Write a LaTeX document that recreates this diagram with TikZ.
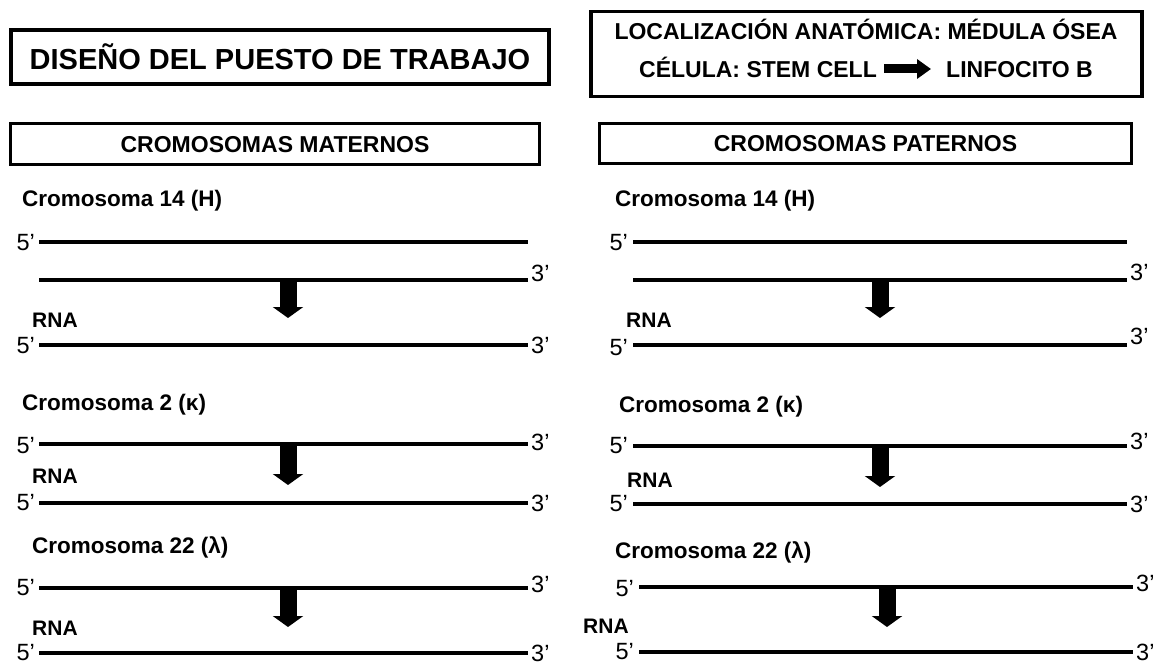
\documentclass[tikz,border=0pt]{standalone}
\usepackage{fontspec}
\setmainfont{Liberation Sans}
\usetikzlibrary{positioning,arrows.meta}

\begin{document}
\begin{tikzpicture}[x=1pt,y=-1pt,
  titlebox/.style={draw,line width=3.5pt,inner sep=0pt},
  headbox/.style={draw,line width=3pt,inner sep=0pt,font=\fontsize{23}{26}\selectfont\bfseries},
  chromlabel/.style={anchor=base west,inner sep=0pt,font=\fontsize{22.5}{26}\selectfont\bfseries},
  rnalabel/.style={anchor=base west,inner sep=0pt,font=\fontsize{21}{24}\selectfont\bfseries},
  fiveend/.style={inner sep=0pt,font=\fontsize{23.5}{26}\selectfont},
  threeend/.style={inner sep=0pt,font=\fontsize{23.5}{26}\selectfont},
  strand/.style={line width=4.5pt},
  transcr/.style={line width=17pt,-{Triangle[width=30pt,length=11pt]}}]

\useasboundingbox (0,0) rectangle (1156,663);

\node (diseno) [titlebox,minimum width=538pt,minimum height=54pt,font=\fontsize{29}{32}\selectfont\bfseries] at (280,57) {DISEÑO DEL PUESTO DE TRABAJO};

\node (cellbox) [titlebox,minimum width=551pt,minimum height=85pt] at (866.5,54) {};
\node (loc) [anchor=base,inner sep=0pt,font=\fontsize{23}{26}\selectfont\bfseries] at (866,40) {LOCALIZACIÓN ANATÓMICA: MÉDULA ÓSEA};
\node (celula) [anchor=west,inner sep=0pt,text height=17pt,text depth=0pt,font=\fontsize{23}{26}\selectfont\bfseries] at (639,69) {CÉLULA: STEM CELL};
\node (linfo) [anchor=west,inner sep=0pt,text height=17pt,text depth=0pt,font=\fontsize{23}{26}\selectfont\bfseries] at (946,69) {LINFOCITO B};
\draw[line width=9pt,-{Triangle[width=19pt,length=14pt]},shorten <=7pt,shorten >=15pt] (celula) -- (linfo);

\node (maternos) [headbox,minimum width=529pt,minimum height=41pt] at (275,144.5) {CROMOSOMAS MATERNOS};
\node (paternos) [headbox,minimum width=532pt,minimum height=40pt] at (865.5,144) {CROMOSOMAS PATERNOS};

\node (m14) [chromlabel] at (22,207) {Cromosoma 14 (H)};
\coordinate (m14a-l) at (39,242);
\coordinate (m14a-r) at (528,242);
\coordinate (m14b-l) at (39,280);
\coordinate (m14b-r) at (528,280);
\coordinate (m14c-l) at (39,345);
\coordinate (m14c-r) at (528,345);
\node (m14a5) [fiveend,left=4pt of m14a-l,yshift=-1pt] {5’};
\node (m14b3) [threeend,right=3pt of m14b-r,yshift=7pt] {3’};
\node (m14rna) [rnalabel] at (32,327) {RNA};
\node (m14c5) [fiveend,left=4pt of m14c-l,yshift=-1pt] {5’};
\node (m14c3) [threeend,right=3pt of m14c-r] {3’};
\draw[strand] (m14a-l) -- (m14a-r);
\draw[strand] (m14b-l) -- (m14b-r);
\draw[strand] (m14c-l) -- (m14c-r);
\coordinate (m14o) at (288,280);
\coordinate (m14t) at (288,318);
\draw[transcr] (m14o) -- (m14t);

\node (m2) [chromlabel] at (22,410) {Cromosoma 2 (κ)};
\coordinate (m2a-l) at (39,444);
\coordinate (m2a-r) at (528,444);
\coordinate (m2b-l) at (39,503);
\coordinate (m2b-r) at (528,503);
\node (m2a5) [fiveend,left=4pt of m2a-l,yshift=-2pt] {5’};
\node (m2a3) [threeend,right=3pt of m2a-r,yshift=2pt] {3’};
\node (m2rna) [rnalabel] at (32,483) {RNA};
\node (m2b5) [fiveend,left=4pt of m2b-l] {5’};
\node (m2b3) [threeend,right=3pt of m2b-r] {3’};
\draw[strand] (m2a-l) -- (m2a-r);
\draw[strand] (m2b-l) -- (m2b-r);
\coordinate (m2o) at (288,444);
\coordinate (m2t) at (288,485);
\draw[transcr] (m2o) -- (m2t);

\node (m22) [chromlabel] at (32,553) {Cromosoma 22 (λ)};
\coordinate (m22a-l) at (39,588);
\coordinate (m22a-r) at (528,588);
\coordinate (m22b-l) at (39,653);
\coordinate (m22b-r) at (528,653);
\node (m22a5) [fiveend,left=4pt of m22a-l] {5’};
\node (m22a3) [threeend,right=3pt of m22a-r,yshift=4pt] {3’};
\node (m22rna) [rnalabel] at (32,635) {RNA};
\node (m22b5) [fiveend,left=4pt of m22b-l] {5’};
\node (m22b3) [threeend,right=3pt of m22b-r] {3’};
\draw[strand] (m22a-l) -- (m22a-r);
\draw[strand] (m22b-l) -- (m22b-r);
\coordinate (m22o) at (288,588);
\coordinate (m22t) at (288,627);
\draw[transcr] (m22o) -- (m22t);

\node (p14) [chromlabel] at (615,207) {Cromosoma 14 (H)};
\coordinate (p14a-l) at (633,242);
\coordinate (p14a-r) at (1127,242);
\coordinate (p14b-l) at (633,280);
\coordinate (p14b-r) at (1127,280);
\coordinate (p14c-l) at (633,345);
\coordinate (p14c-r) at (1127,345);
\node (p14a5) [fiveend,left=5pt of p14a-l,yshift=-1pt] {5’};
\node (p14b3) [threeend,right=3pt of p14b-r,yshift=8pt] {3’};
\node (p14rna) [rnalabel] at (626,327) {RNA};
\node (p14c5) [fiveend,left=5pt of p14c-l,yshift=-3pt] {5’};
\node (p14c3) [threeend,right=3pt of p14c-r,yshift=9pt] {3’};
\draw[strand] (p14a-l) -- (p14a-r);
\draw[strand] (p14b-l) -- (p14b-r);
\draw[strand] (p14c-l) -- (p14c-r);
\coordinate (p14o) at (880,280);
\coordinate (p14t) at (880,318);
\draw[transcr] (p14o) -- (p14t);

\node (p2) [chromlabel] at (619,412) {Cromosoma 2 (κ)};
\coordinate (p2a-l) at (633,446);
\coordinate (p2a-r) at (1127,446);
\coordinate (p2b-l) at (633,504);
\coordinate (p2b-r) at (1127,504);
\node (p2a5) [fiveend,left=5pt of p2a-l] {5’};
\node (p2a3) [threeend,right=3pt of p2a-r,yshift=5pt] {3’};
\node (p2rna) [rnalabel] at (627,487) {RNA};
\node (p2b5) [fiveend,left=5pt of p2b-l] {5’};
\node (p2b3) [threeend,right=3pt of p2b-r] {3’};
\draw[strand] (p2a-l) -- (p2a-r);
\draw[strand] (p2b-l) -- (p2b-r);
\coordinate (p2o) at (880,446);
\coordinate (p2t) at (880,487);
\draw[transcr] (p2o) -- (p2t);

\node (p22) [chromlabel] at (615,558) {Cromosoma 22 (λ)};
\coordinate (p22a-l) at (639,587);
\coordinate (p22a-r) at (1133,587);
\coordinate (p22b-l) at (639,652);
\coordinate (p22b-r) at (1133,652);
\node (p22a5) [fiveend,left=5pt of p22a-l,yshift=-2pt] {5’};
\node (p22a3) [threeend,right=3pt of p22a-r,yshift=4pt] {3’};
\node (p22rna) [rnalabel] at (583,633) {RNA};
\node (p22b5) [fiveend,left=5pt of p22b-l] {5’};
\node (p22b3) [threeend,right=3pt of p22b-r] {3’};
\draw[strand] (p22a-l) -- (p22a-r);
\draw[strand] (p22b-l) -- (p22b-r);
\coordinate (p22o) at (887,587);
\coordinate (p22t) at (887,627);
\draw[transcr] (p22o) -- (p22t);

\end{tikzpicture}
\end{document}
